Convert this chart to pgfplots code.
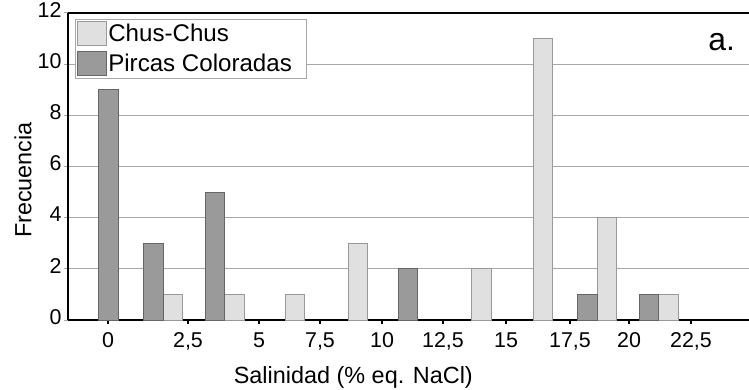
\documentclass[border=0pt]{standalone}
\usepackage{fontspec}
\setmainfont{Liberation Sans}
\usepackage{pgfplots}
\pgfplotsset{compat=1.18}
\definecolor{darkbar}{HTML}{9A9A9A}
\definecolor{lightbar}{HTML}{E0E0E0}
\definecolor{gridc}{HTML}{A8A8A8}
\begin{document}
\begin{tikzpicture}
\path[use as bounding box] (-68bp,-70bp) rectangle (681bp,320bp);
\begin{axis}[
  scale only axis,
  width=681bp, height=307bp,
  xmin=68, xmax=749, ymin=0, ymax=12,
  axis x line*=bottom, axis y line*=left,
  axis line style={-, black, line width=2.4bp},
  clip=false,
  xtick={108,188,259,320,382,443,506,570,629,691},
  xticklabels={0,{2,5},5,{7,5},10,{12,5},15,{17,5},20,{22,5}},
  ytick={0,2,...,12},
  tick align=outside,
  x tick style={black, line width=1.5bp},
  y tick style={gridc, line width=1bp},
  major tick length=4bp,
  ymajorgrids,
  grid style={gridc, line width=1bp},
  /pgf/number format/assume math mode=true,
  typeset ticklabels with strut,
  ticklabel style={font=\fontsize{21.5}{21.5}\selectfont},
  xticklabel style={yshift=-5bp},
  yticklabel style={xshift=1bp},
  xlabel={Salinidad (\% eq. NaCl)},
  ylabel={Frecuencia},
  label style={font=\fontsize{23.5}{23.5}\selectfont},
  xlabel style={at={(axis description cs:0.419,0)}, anchor=center, yshift=-57bp},
  ylabel style={at={(axis description cs:0,0.456)}, anchor=center, yshift=45bp},
  legend style={at={(axis description cs:0,1)}, anchor=north west, xshift=7bp, yshift=-6bp,
    draw=gridc, fill=white, line width=1bp, font=\fontsize{24.2}{24.2}\selectfont,
    inner xsep=2bp, inner ysep=2bp, row sep=5bp,
    nodes={inner xsep=1bp, inner ysep=0bp}},
  legend cell align=left,
  legend image code/.code={\draw[#1, line width=0.8bp] (0bp,-12bp) rectangle (29bp,12bp);},
]
\addplot[ybar, bar width=19.3, bar shift=0pt, fill=lightbar, draw=gray!80, line width=0.8bp]
  coordinates {(173,1) (234.3,1) (294.7,1) (357.8,3) (481.5,2) (543.2,11) (606.8,4) (668.3,1)};
\addlegendentry{Chus-Chus}
\addplot[ybar, bar width=19.3, bar shift=0pt, fill=darkbar, draw=black!60, line width=0.8bp]
  coordinates {(108.5,9) (153.3,3) (215,5) (408,2) (587.3,1) (649,1)};
\addlegendentry{Pircas Coloradas\kern12bp}
\draw[black, line width=2bp] (rel axis cs:0,1) -- (rel axis cs:1,1);
\node[font=\fontsize{32}{32}\selectfont] at (axis description cs:0.960,0.906) {a.};
\end{axis}
\end{tikzpicture}
\end{document}
